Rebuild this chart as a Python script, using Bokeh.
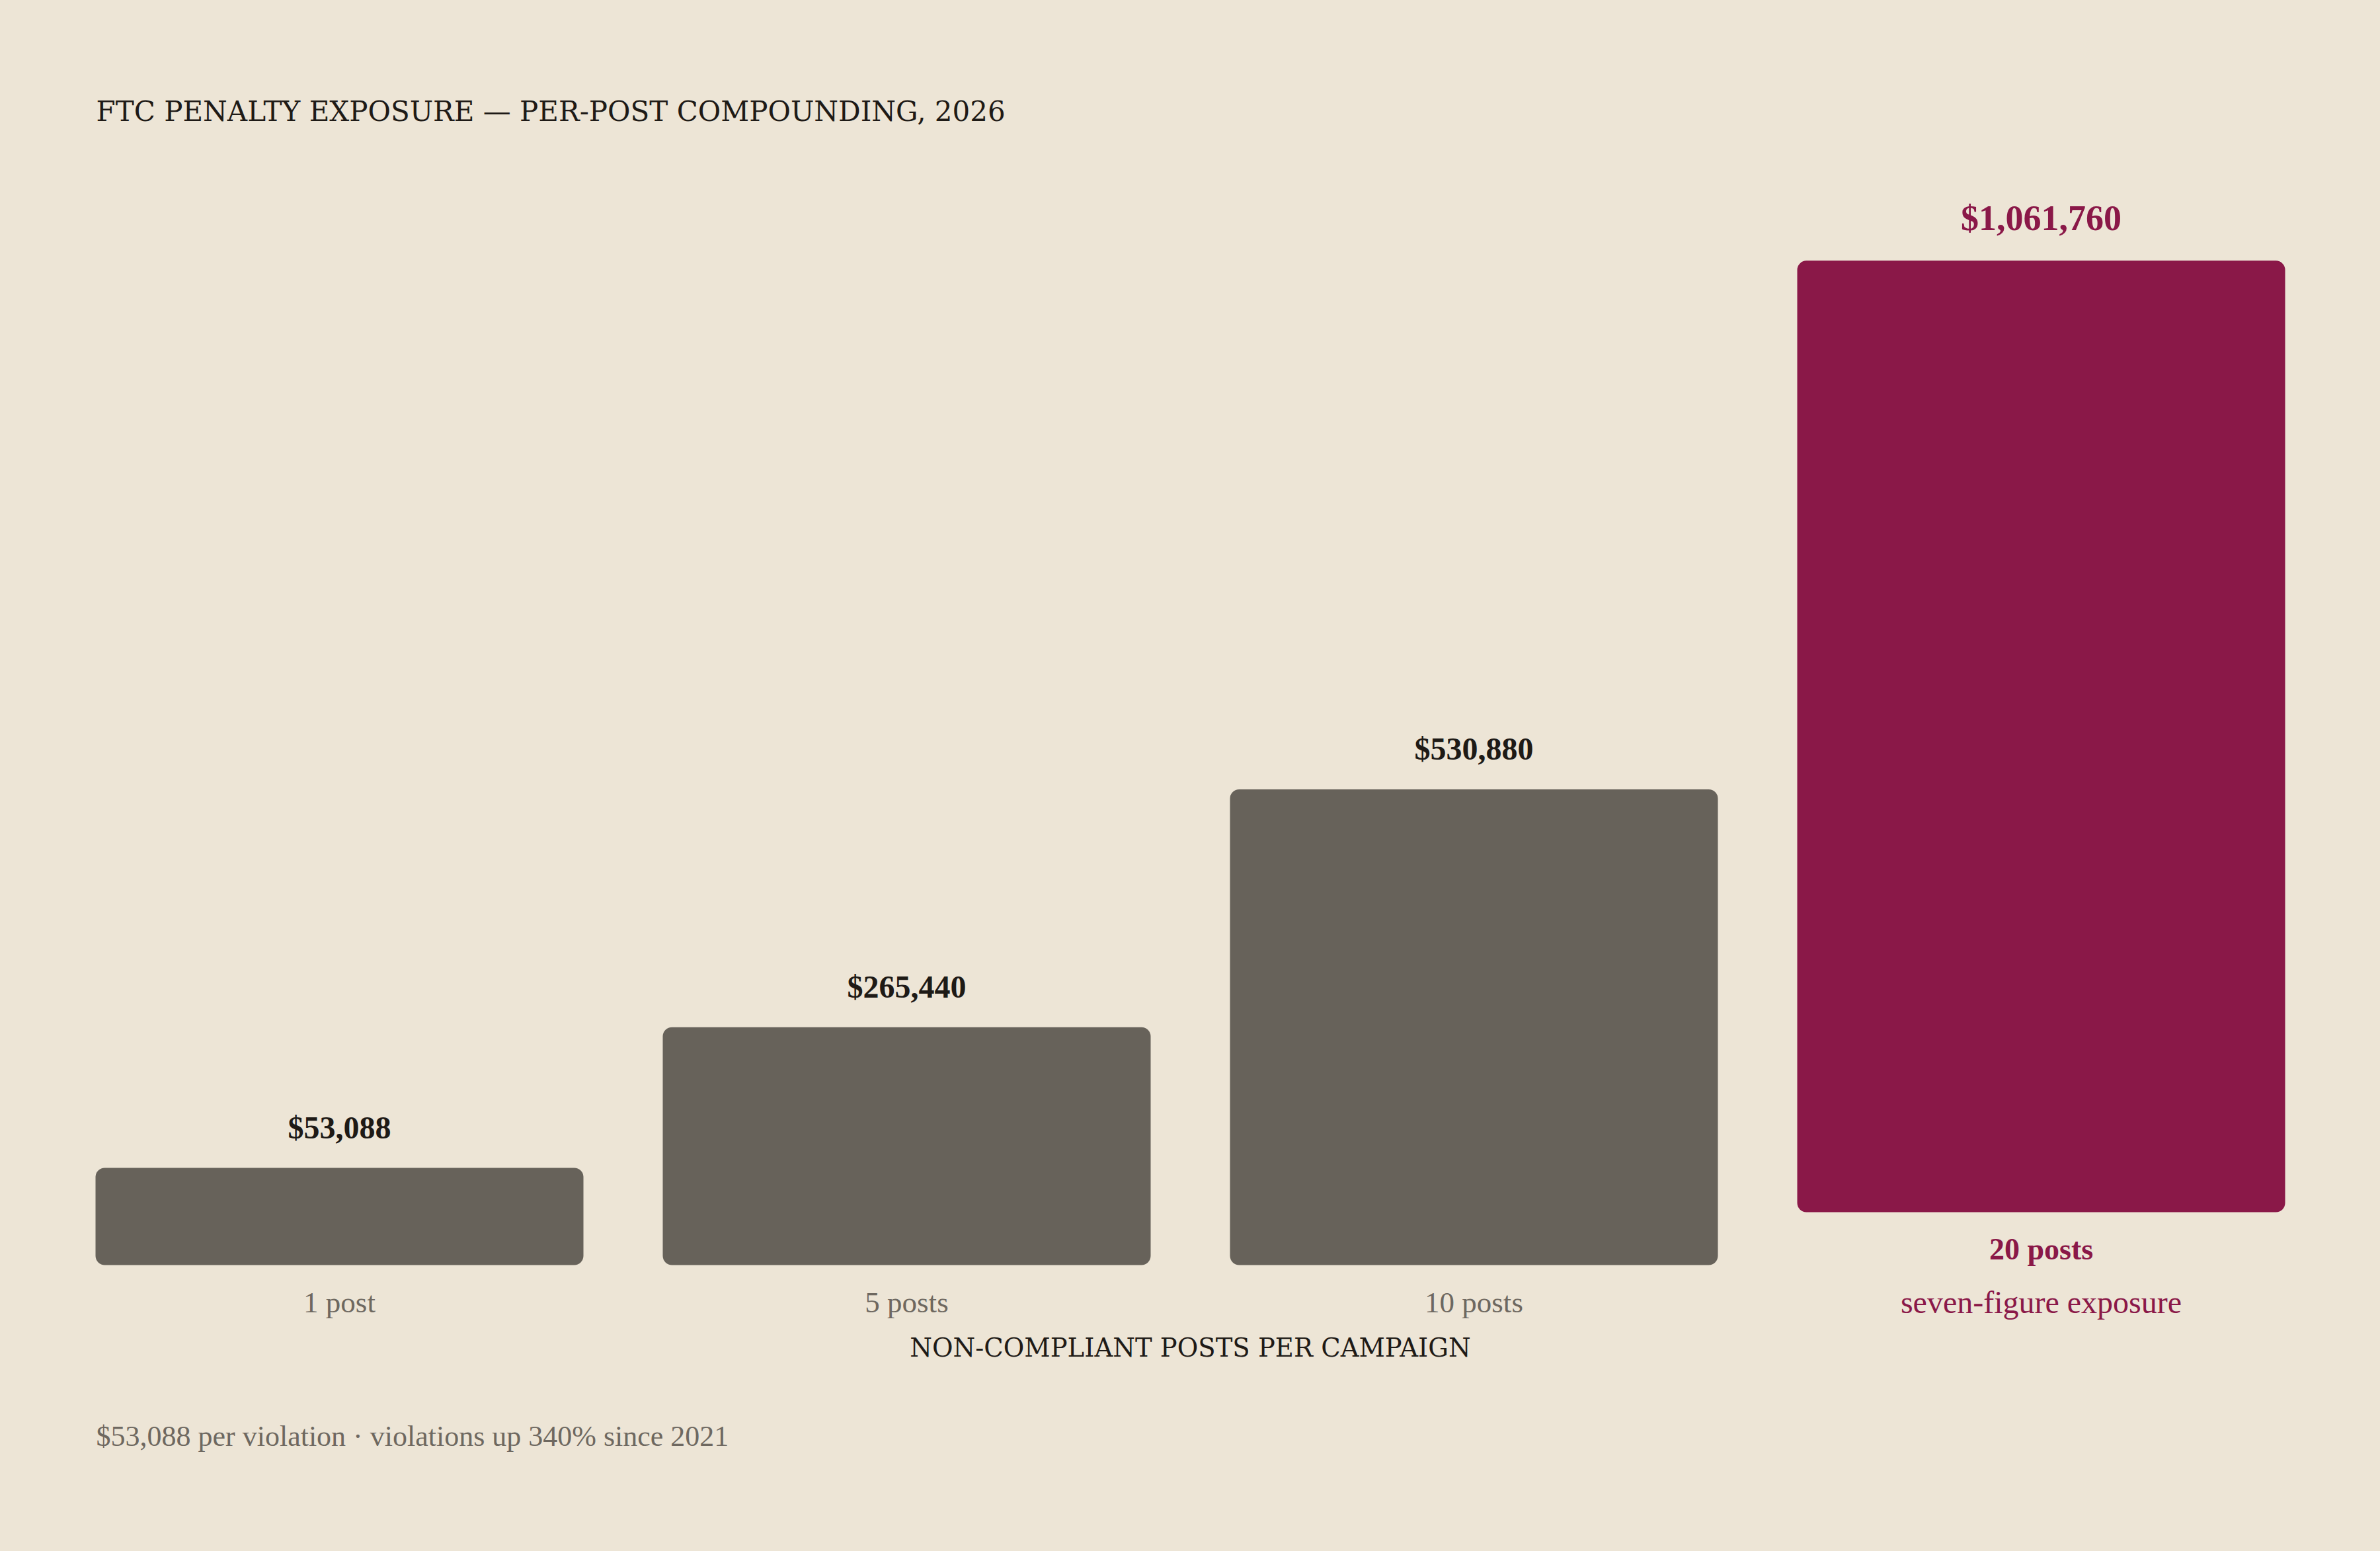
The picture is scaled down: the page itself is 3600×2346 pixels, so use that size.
from bokeh.plotting import figure
from bokeh.models import Range1d, ColumnDataSource
from bokeh.core.properties import value
from bokeh.embed import file_html
from bokeh.resources import INLINE

# ---------------- data ----------------
categories = ["1 post", "5 posts", "10 posts", "20 posts"]
penalties = [53088, 265440, 530880, 1061760]
highlight = [False, False, False, True]
highlight_note = "seven-figure exposure"
title_text = "FTC PENALTY EXPOSURE \u2014 PER-POST COMPOUNDING, 2026"
axis_title_text = "NON-COMPLIANT POSTS PER CAMPAIGN"
footer_text = "$53,088 per violation \u00b7 violations up 340% since 2021"

# ---------------- style / layout ----------------
BG = "#EDE5D6"
GRAY_BAR = "#67625A"
CRIMSON = "#8A1848"
DARK = "#1E1A16"
MUTED = "#6E6860"
SERIF = "Liberation Serif"
CAPS_SERIF = "DejaVu Serif"

W, H = 3600, 2346
M = 0
BASE_Y = 1913           # page y of baseline
PX_PER_USD = 1.3555e-3  # vertical scale
X0, PERIOD = 513, 858   # page x of first bar centre, spacing
BAR_W = 738 / PERIOD
MIN_BAR_PX = 147
LIFT_PX = 80
RADIUS = 14
TS = -14                # text vertical correction (px)

def ydata(page_y):
    return (BASE_Y - page_y) / PX_PER_USD

def xdata(page_x):
    return (page_x - X0) / PERIOD

p = figure(width=W, height=H, output_backend="svg", toolbar_location=None,
           x_range=Range1d(xdata(M), xdata(M + W)),
           y_range=Range1d(ydata(M + H), ydata(M)),
           min_border=0, outline_line_color=None,
           background_fill_color=BG, border_fill_color=BG)
p.axis.visible = False
p.grid.visible = False

xs = list(range(len(categories)))
bottoms, tops, colors = [], [], []
min_val = MIN_BAR_PX / PX_PER_USD
lift_val = LIFT_PX / PX_PER_USD
for v, h in zip(penalties, highlight):
    if h:
        bottoms.append(lift_val)
        tops.append(lift_val + v)
        colors.append(CRIMSON)
    else:
        bottoms.append(0)
        tops.append(max(v, min_val))
        colors.append(GRAY_BAR)

src = ColumnDataSource(dict(x=xs, bottom=bottoms, top=tops, color=colors,
                            cat=categories,
                            label=[f"${v:,}" for v in penalties]))
p.vbar(x="x", width=BAR_W, bottom="bottom", top="top", fill_color="color",
       line_color=None, border_radius=RADIUS, source=src)

# value labels and category labels
for i, (h, lab, cat) in enumerate(zip(highlight, src.data["label"], categories)):
    col = CRIMSON if h else DARK
    size = "54px" if h else "48px"
    off = (-50 if h else -47) + TS
    p.text(x=[i], y=[tops[i]], text=[lab], text_font=value(SERIF),
           text_font_size=size, text_font_style="bold", text_color=col,
           text_align="center", text_baseline="alphabetic", y_offset=off)
    if h:
        p.text(x=[i], y=[bottoms[i]], text=[cat], text_font=value(SERIF),
               text_font_size="46px", text_font_style="bold", text_color=CRIMSON,
               text_align="center", text_baseline="alphabetic", y_offset=70 + TS)
        p.text(x=[i], y=[0], text=[highlight_note], text_font=value(SERIF),
               text_font_size="48px", text_color=CRIMSON,
               text_align="center", text_baseline="alphabetic", y_offset=70 + TS)
    else:
        p.text(x=[i], y=[0], text=[cat], text_font=value(SERIF),
               text_font_size="45px", text_color=MUTED,
               text_align="center", text_baseline="alphabetic", y_offset=70 + TS)

# title, axis title, footer
p.text(x=[xdata(145)], y=[ydata(182 + TS)], text=[title_text], text_font=value(CAPS_SERIF),
       text_font_size="42px", text_color=DARK, text_align="left",
       text_baseline="alphabetic")
p.text(x=[xdata(1800)], y=[ydata(2052 + TS)], text=[axis_title_text],
       text_font=value(CAPS_SERIF), text_font_size="38.5px", text_color=DARK,
       text_align="center", text_baseline="alphabetic")
p.text(x=[xdata(145)], y=[ydata(2186 + TS)], text=[footer_text], text_font=value(SERIF),
       text_font_size="44px", text_color=MUTED, text_align="left",
       text_baseline="alphabetic")

html = file_html(p, INLINE)
style = (f"<style>html, body {{ margin:0 !important; padding:0 !important; "
         f"background:{BG} !important; overflow:hidden; }}</style>")
html = html.replace("</head>", style + "\n</head>", 1)
open("out.html", "w").write(html)
